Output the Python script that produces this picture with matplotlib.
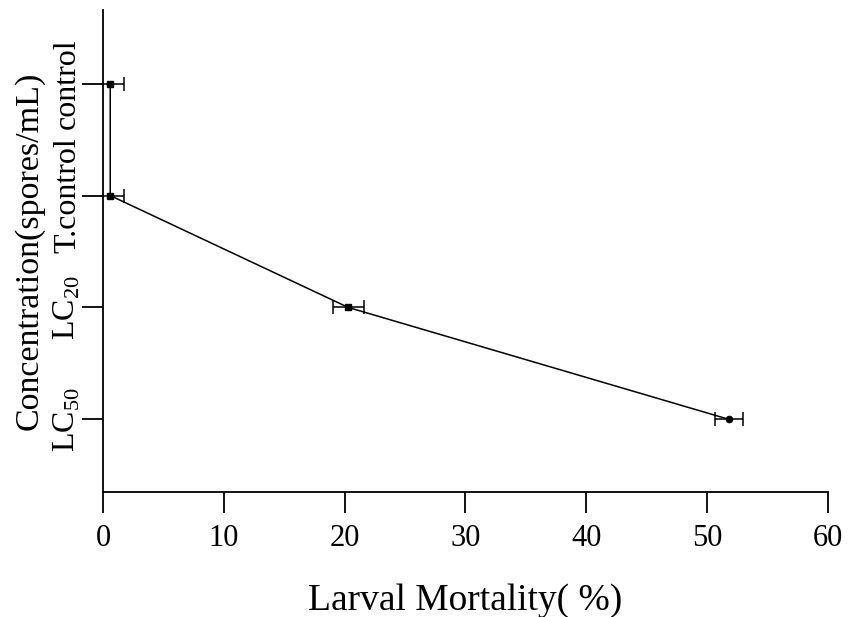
import numpy as np
import matplotlib.pyplot as plt

plt.rcParams['font.family'] = ['Liberation Serif', 'DejaVu Serif']
plt.rcParams['mathtext.fontset'] = 'custom'
plt.rcParams['mathtext.rm'] = 'Liberation Serif'

groups = ['LC$_{50}$', 'LC$_{20}$', 'T.control', 'control']
mortality = [51.8, 20.3, 0.6, 0.6]
mortality_err = [1.15, 1.3, 1.15, 1.15]
markers = ['o', 's', 's', 's']

fig = plt.figure(figsize=(8.49, 6.17), dpi=100)
ax = fig.add_axes([0.1213, 0.2026, 0.8537, 0.7814])

ypos = np.arange(len(groups))
ax.plot(mortality, ypos, color='black', lw=1.1, zorder=2)
ax.errorbar(mortality, ypos, xerr=mortality_err, fmt='none', ecolor='black',
            elinewidth=1.1, capsize=5, capthick=1.1, zorder=3)
for x, y, m in zip(mortality, ypos, markers):
    ax.plot(x, y, marker=m, color='black', ms=4.5, zorder=4)

ax.set_xlim(0, 60)
ax.set_ylim(-0.65, 3.66)
ax.set_xticks(np.arange(0, 61, 10))
ax.set_yticks(ypos)
ax.set_yticklabels(groups, rotation=90, va='center')

for s in ['top', 'right']:
    ax.spines[s].set_visible(False)
for s in ['left', 'bottom']:
    ax.spines[s].set_linewidth(1.3)

ax.tick_params(axis='both', direction='out', length=15, width=1.3,
               colors='black')
ax.tick_params(axis='x', pad=8, labelsize=22)
ax.tick_params(axis='y', pad=0, labelsize=23)

ax.set_xlabel('Larval Mortality( %)', fontsize=27, labelpad=22)
ax.set_ylabel('Concentration(spores/mL)', fontsize=24.5, labelpad=5)

fig.savefig('out.png', dpi=100)
